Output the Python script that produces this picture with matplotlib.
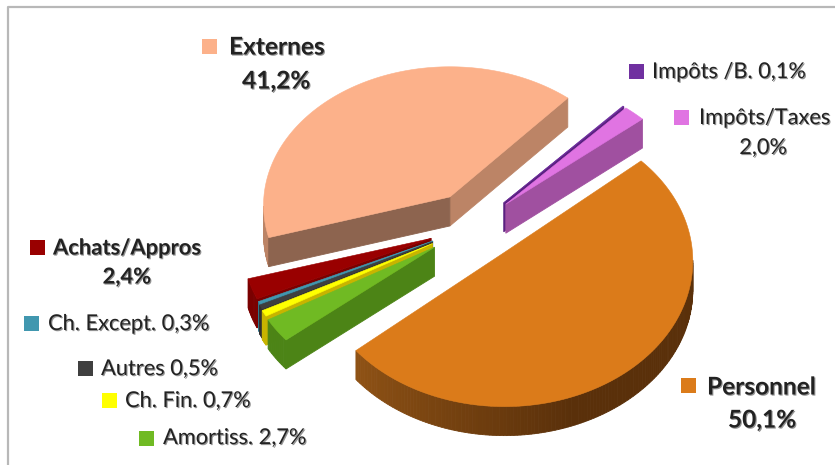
import numpy as np
import matplotlib
matplotlib.use("Agg")
import matplotlib.pyplot as plt
import matplotlib.patheffects as pe
from matplotlib.colors import to_rgb
from matplotlib.patches import Rectangle

# values in pie order, counterclockwise from the Personnel slice
names = ["Personnel", "Impôts/Taxes", "Impôts /B.", "Externes", "Achats/Appros",
         "Ch. Except.", "Autres", "Ch. Fin.", "Amortiss."]
shares = [50.1, 2.0, 0.1, 41.2, 2.4, 0.3, 0.5, 0.7, 2.7]

top_colors = ["#DB7B1A", "#E074E2", "#7030A0", "#FCB18A", "#990000",
              "#4197AF", "#3F3F3F", "#FFFF00", "#70BA23"]
wall_start = ["#5A300A", "#A050A0", "#5A2080", "#BC8466", "#7A0000",
              "#30748A", "#303030", "#C8B400", "#4C8416"]
wall_end = ["#5A300A", "#A050A0", "#5A2080", "#8D644F", "#7A0000",
            "#30748A", "#303030", "#C8B400", "#4C8416"]
arc_light = ["#8F5215", "#A050A0", "#5A2080", "#8D644F", "#7A0000",
             "#30748A", "#303030", "#C8B400", "#4C8416"]

explode = [0.24, 0.23, 0.23, 0.25, 0.25, 0.25, 0.255, 0.26, 0.265]
radius_x = [188, 188, 188, 186, 188, 188, 188, 188, 188]
radius_y = [145, 135, 135, 138, 137, 137, 137, 137, 137]
draw_order = [2, 1, 3, 4, 5, 6, 7, 8, 0]

center = (475, 226)
start_angle = 220.6
depth = 29
persp = 0.06


def arc_points(i, t):
    """Outer rim of slice i for angles t in radians"""
    p = 1 / (1 + persp * np.sin(t))
    return ax_x[i] + radius_x[i] * np.cos(t) * p, ax_y[i] - radius_y[i] * np.sin(t) * p


def wall(xa, ya, xb, yb, color):
    # only walls running left to right (counterclockwise) face the viewer
    if xb > xa:
        ax.fill([xa, xb, xb, xa], [ya, yb, yb + depth, ya + depth],
                color=color, lw=0.6, zorder=z)


fig = plt.figure(figsize=(8.35, 4.65), dpi=100)
ax = fig.add_axes([0, 0, 1, 1])
ax.set_xlim(0, 835)
ax.set_ylim(465, 0)
ax.axis("off")

spans = np.array(shares) / sum(shares) * 360
starts = start_angle + np.concatenate(([0], np.cumsum(spans)[:-1]))
mids = np.radians(starts + spans / 2)
ax_x = [center[0] + explode[i] * radius_x[i] * np.cos(mids[i]) for i in range(9)]
ax_y = [center[1] - explode[i] * radius_y[i] * np.sin(mids[i]) for i in range(9)]

z = 2
for i in draw_order:
    angles = np.radians(np.linspace(starts[i], starts[i] + spans[i], max(int(spans[i]), 6) + 1))
    xs, ys = arc_points(i, angles)

    wall(ax_x[i], ax_y[i], xs[0], ys[0], wall_start[i])
    light = np.array(to_rgb(arc_light[i]))
    dark = np.array(to_rgb(wall_start[i]))
    for k in range(len(xs) - 1):
        # rim shading fades from the lit left side towards the front
        mix = min(k / (0.38 * (len(xs) - 1)), 1)
        wall(xs[k], ys[k], xs[k + 1], ys[k + 1], tuple(light + (dark - light) * mix))
    wall(xs[-1], ys[-1], ax_x[i], ax_y[i], wall_end[i])
    z += 1

    ax.fill(np.r_[ax_x[i], xs], np.r_[ax_y[i], ys], color=top_colors[i], lw=0.4, zorder=z)
    z += 1

shadow = [pe.withSimplePatchShadow(offset=(0.8, -0.8), shadow_rgbFace="#666666", alpha=0.7)]


def pct(i):
    return f"{shares[i]:.1f}%".replace(".", ",")


def key(x, y, i):
    ax.add_patch(Rectangle((x, y), 15, 15, color=top_colors[i], lw=0, zorder=50))


def label(x, y, s, size=15.7, bold=False, ha="left"):
    ax.text(x, y, s, fontsize=size, fontweight="bold" if bold else "normal",
            family="Lato", color="#222222", ha=ha, va="center", zorder=51, path_effects=shadow)


key(202, 39, 3)
label(229, 47, names[3], 17.6, True)
label(276, 81, pct(3), 17.6, True, "center")
key(629, 64, 2)
label(652, 72, f"{names[2]} {pct(2)}")
key(674, 110, 1)
label(699, 118, names[1])
label(763, 148, pct(1), ha="center")
key(681, 378, 0)
label(707, 387, names[0], 17.6, True)
label(762, 420, pct(0), 17.6, True, "center")
key(30, 240, 4)
label(53, 248, names[4], 15.8, True)
label(127, 277, pct(4), 15.8, True, "center")
key(24, 316, 5)
label(48, 324, f"{names[5]} {pct(5)}")
key(78, 361, 6)
label(101, 369, f"{names[6]} {pct(6)}")
key(102, 393, 7)
label(125, 401, f"{names[7]} {pct(7)}")
key(139, 431, 8)
label(163, 438, f"{names[8]} {pct(8)}")

# chart frame
ax.plot([7.5, 7.5, 835], [465, 7.5, 7.5], color="#B8B8B8", lw=1.6, zorder=1)

fig.savefig("out.png", dpi=100)
